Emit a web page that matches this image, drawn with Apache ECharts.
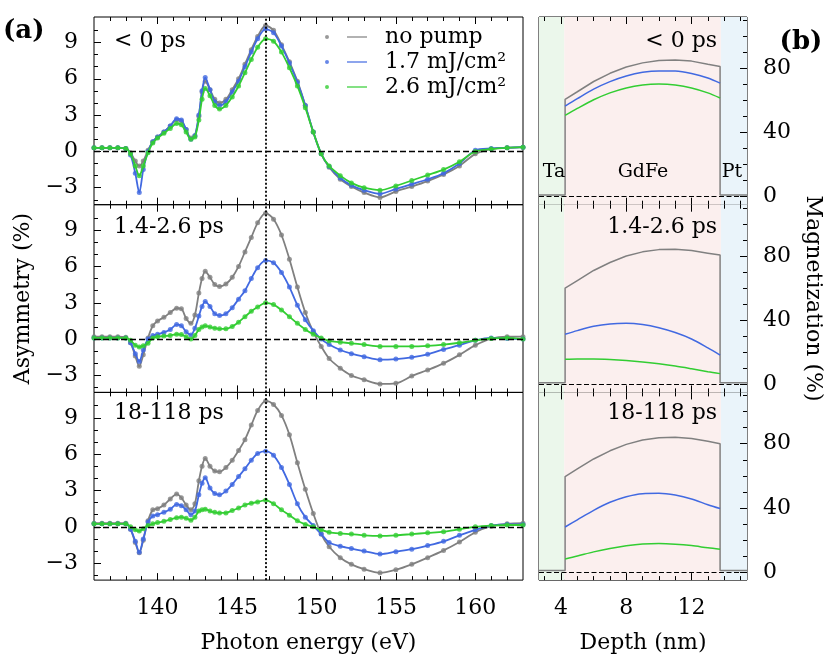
<!DOCTYPE html>
<html>
<head>
<meta charset="utf-8">
<title>Asymmetry spectra and magnetization depth profiles</title>
<script src="https://cdn.jsdelivr.net/npm/echarts@6.0.0/dist/echarts.min.js"></script>
<style>
  html, body { margin: 0; padding: 0; background: #fff; }
  #main { width: 830px; height: 659px; }
</style>
</head>
<body>
<div id="main"></div>
<script>
// photon energy (eV) of the sampled points
const energy = [136, 136.5, 137, 137.5, 138, 138.3, 138.6, 138.85, 139.1, 139.4,
  139.7, 140.0, 140.4, 140.8, 141.2, 141.5, 141.8, 142.1, 142.35, 142.6,
  142.8, 143.0, 143.3, 143.6, 143.9, 144.3, 144.7, 145.1, 145.5, 145.9,
  146.3, 146.8, 147.3, 147.8, 148.3, 148.8, 149.3, 149.8, 150.3, 150.8,
  151.5, 152.2, 153, 154, 155, 156, 157, 158, 159, 160,
  161, 162, 163]

// asymmetry (%) , delay < 0 ps
const noPumpNeg = [0.3, 0.3, 0.3, 0.3, 0.25, -0.1, -0.8, -1.2, -0.8, 0.1,
  0.8, 1.2, 1.6, 2.1, 2.6, 2.5, 1.8, 1.1, 1.3, 2.9,
  4.9, 5.8, 5.1, 4.3, 4.0, 4.3, 5.1, 6.0, 7.2, 8.4,
  9.5, 10.4, 10.0, 8.8, 7.4, 5.8, 3.8, 1.6, -0.2, -1.3,
  -2.3, -2.9, -3.4, -3.8, -3.3, -2.9, -2.45, -1.9, -1.2, -0.2,
  0.2, 0.3, 0.35]
const lowNeg = [0.3, 0.3, 0.3, 0.3, 0.25, -0.3, -1.8, -3.4, -1.5, 0.0,
  0.8, 1.2, 1.6, 2.1, 2.7, 2.6, 1.8, 1.0, 1.3, 3.0,
  5.0, 6.1, 5.1, 4.1, 3.8, 4.1, 4.9, 5.8, 7.0, 8.2,
  9.3, 10.1, 9.8, 8.7, 7.3, 5.7, 3.8, 1.6, -0.2, -1.25,
  -2.2, -2.8, -3.2, -3.5, -3.1, -2.7, -2.3, -1.8, -1.0, 0.1,
  0.25, 0.3, 0.35]
const highNeg = [0.3, 0.3, 0.3, 0.3, 0.25, -0.2, -1.2, -2.0, -1.2, -0.1,
  0.7, 1.1, 1.5, 1.9, 2.3, 2.2, 1.6, 1.0, 1.2, 2.6,
  4.3, 5.2, 4.6, 3.8, 3.5, 3.8, 4.5, 5.4, 6.5, 7.6,
  8.6, 9.3, 9.1, 8.2, 6.9, 5.4, 3.6, 1.6, -0.2, -1.2,
  -2.0, -2.6, -3.0, -3.2, -2.85, -2.4, -1.95, -1.5, -0.85, 0.0,
  0.2, 0.3, 0.35]

// asymmetry (%) , delay 1.4-2.6 ps
const noPumpEarly = [0.2, 0.2, 0.2, 0.2, 0.15, -0.3, -1.4, -2.25, -1.3, 0.1,
  1.1, 1.5, 1.8, 2.2, 2.55, 2.5, 1.7, 1.3, 2.0, 3.8,
  5.0, 5.6, 5.1, 4.5, 4.35, 4.55, 5.1, 6.0, 7.2, 8.4,
  9.6, 10.4, 9.9, 8.6, 6.6, 4.3, 2.2, 0.6, -0.6, -1.6,
  -2.4, -3.0, -3.35, -3.7, -3.65, -3.05, -2.55, -2.0, -1.3, -0.5,
  0.05, 0.2, 0.2]
const lowEarly = [0.1, 0.1, 0.1, 0.1, 0.1, -0.3, -1.2, -1.85, -0.9, 0.0,
  0.3, 0.4, 0.55, 0.8, 1.2, 1.1, 0.6, 0.35, 0.9, 1.9,
  2.7, 3.1, 2.7, 2.1, 1.95, 2.1, 2.6, 3.3, 4.0, 5.0,
  5.9, 6.5, 6.3, 5.5, 4.3, 2.8, 1.6, 0.7, 0.0, -0.45,
  -0.9, -1.2, -1.45, -1.7, -1.65, -1.5, -1.25, -0.85, -0.5, -0.1,
  0.1, 0.05, 0.0]
const highEarly = [0.1, 0.1, 0.1, 0.1, 0.1, -0.1, -0.5, -0.65, -0.55, -0.35,
  0.1, 0.2, 0.25, 0.3, 0.4, 0.38, 0.2, 0.0, 0.3, 0.8,
  1.0, 1.1, 1.0, 0.9, 0.85, 0.85, 1.05, 1.4, 1.85, 2.3,
  2.65, 3.0, 2.85, 2.4, 1.85, 1.3, 0.8, 0.4, 0.1, -0.15,
  -0.25, -0.35, -0.45, -0.6, -0.6, -0.6, -0.55, -0.45, -0.3, -0.1,
  0.05, 0.1, 0.0]

// asymmetry (%) , delay 18-118 ps
const noPumpLate = [0.3, 0.3, 0.3, 0.3, 0.3, -0.2, -1.3, -2.15, -1.1, 0.5,
  1.4, 1.5, 1.8, 2.3, 2.7, 2.4, 1.8, 1.4, 1.9, 3.8,
  5.0, 5.65, 5.0, 4.6, 4.55, 4.9, 5.5, 6.3, 7.2, 8.4,
  9.6, 10.4, 10.1, 9.2, 7.6, 5.3, 3.1, 1.1, -0.6, -1.65,
  -2.55, -3.1, -3.5, -3.8, -3.55, -3.1, -2.55, -1.95, -1.25, -0.45,
  0.05, 0.25, 0.3]
const lowLate = [0.25, 0.25, 0.25, 0.25, 0.25, -0.2, -1.2, -2.1, -1.0, 0.4,
  0.9, 1.0, 1.2, 1.45, 1.85, 1.75, 1.4, 1.0, 1.3, 2.65,
  3.6, 4.05, 3.2, 2.75, 2.65, 2.95, 3.5, 4.15, 4.8, 5.5,
  6.05, 6.25, 5.9, 4.9, 3.5, 1.9, 0.8, 0.1, -0.6, -1.3,
  -1.6, -1.8, -2.0, -2.25, -2.05, -1.85, -1.55, -1.2, -0.7, -0.25,
  0.1, 0.2, 0.2]
const highLate = [0.25, 0.25, 0.25, 0.25, 0.25, 0.0, -0.25, -0.35, -0.15, 0.1,
  0.25, 0.35, 0.45, 0.6, 0.75, 0.8, 0.7, 0.55, 0.8, 1.3,
  1.4, 1.45, 1.3, 1.2, 1.15, 1.15, 1.35, 1.55, 1.8, 1.95,
  2.05, 2.2, 1.9, 1.4, 0.95, 0.5, 0.2, 0.0, -0.25, -0.45,
  -0.55, -0.6, -0.7, -0.75, -0.7, -0.6, -0.5, -0.4, -0.2, 0.0,
  0.1, 0.15, 0.15]

// depth (nm) inside the GdFe film and magnetization (%)
const depth = [4.25, 5, 6, 7, 8, 9, 10, 11, 12, 13, 13.75]
const magNoPumpNeg = [60.7, 65.4, 71.8, 76.9, 80.8, 83.4, 84.9, 85.2, 84.5, 82.6, 81.2]
const magLowNeg = [56.5, 61.1, 67.0, 71.7, 75.2, 77.5, 78.4, 78.3, 76.8, 74.0, 70.8]
const magHighNeg = [50.7, 55.0, 60.4, 64.7, 67.8, 69.6, 70.2, 69.6, 67.8, 64.7, 61.5]
const magNoPumpEarly = [60.0, 64.7, 71.0, 76.0, 80.0, 82.6, 84.0, 84.2, 83.4, 81.8, 80.6]
const magLowEarly = [31.2, 33.5, 36.2, 37.7, 38.1, 37.3, 35.3, 32.3, 28.3, 22.8, 18.3]
const magHighEarly = [15.6, 15.8, 15.8, 15.5, 14.9, 14.0, 12.8, 11.4, 9.7, 7.9, 6.7]
const magNoPumpLate = [59.5, 64.3, 70.5, 75.6, 79.6, 82.3, 83.8, 84.1, 83.3, 81.5, 80.0]
const magLowLate = [28.1, 32.6, 38.5, 43.5, 47.0, 48.9, 49.1, 48.0, 45.6, 42.0, 39.6]
const magHighLate = [8.2, 10.0, 12.6, 14.7, 16.4, 17.5, 17.8, 17.4, 16.5, 15.1, 14.2]
const outsideLevel = 1

const traceNames = ['no pump', '1.7 mJ/cm²', '2.6 mJ/cm²']
const delayLabels = ['< 0 ps', '1.4-2.6 ps', '18-118 ps']
const layerNames = ['Ta', 'GdFe', 'Pt']
const layerBounds = [2.65, 4.2, 13.8, 15.4]
const edgeEnergy = 146.8

const energyRange = [136, 163]
const asymRange = [-4.4, 11.1]
const depthRange = [2.65, 15.4]
const magRange = [-5, 112]
const energyTicks = [140, 145, 150, 155, 160]
const energyMinor = [137, 138, 139, 141, 142, 143, 144, 146, 147, 148, 149, 151, 152, 153, 154, 156, 157, 158, 159, 161, 162]
const asymTicks = [-3, 0, 3, 6, 9]
const asymMinor = [-4, -2, -1, 1, 2, 4, 5, 7, 8, 10]
const depthTicks = [4, 8, 12]
const depthMinor = [3, 5, 6, 7, 9, 10, 11, 13, 14, 15]
const magTicks = [0, 40, 80]
const magMinor = [10, 20, 30, 50, 60, 70, 90, 100, 110]

const asymData = [[noPumpNeg, lowNeg, highNeg], [noPumpEarly, lowEarly, highEarly], [noPumpLate, lowLate, highLate]]
const magData = [[magNoPumpNeg, magLowNeg, magHighNeg], [magNoPumpEarly, magLowEarly, magHighEarly], [magNoPumpLate, magLowLate, magHighLate]]

const chart = echarts.init(document.getElementById('main'))
const FONT = 'DejaVu Serif'
const BLACK = '#000'
const traceColors = ['#808080', '#4169e1', '#32cd32']
const layerColors = ['#ebf7eb', '#fbefee', '#eaf4fa']

const panelTop = [17, 204.7, 392.4]
const panelHeight = 187.7
const leftBox = { left: 94, width: 429 }
const rightBox = { left: 539, width: 208 }

const grid = [], xAxis = [], yAxis = [], series = []
const labelFont = { fontFamily: FONT, fontSize: 22, color: BLACK }
const minus = v => String(v).replace('-', '\u2212')
const pairs = (xs, ys) => ys.map((y, i) => [xs[i], y])

// tick-only axis (no series on it); hidden labels keep the same custom values as the ticks
const tickAxis = (g, pos, range, values, len) => ({
    type: 'value', gridIndex: g, position: pos, min: range[0], max: range[1], z: 10,
    splitLine: { show: false }, axisLine: { show: false, onZero: false },
    axisLabel: { show: false, customValues: values },
    axisTick: { show: true, inside: true, length: len, customValues: values, lineStyle: { color: BLACK, width: 1 } }
})

const addPanel = (box, top, o) => {
    const g = grid.length
    grid.push({
        left: box.left, width: box.width, top: top, height: panelHeight,
        show: true, backgroundColor: 'transparent', borderColor: BLACK, borderWidth: 1
    })
    const base = { type: 'value', gridIndex: g, z: 10, splitLine: { show: false }, axisLine: { show: false, onZero: false }, axisTick: { show: false } }
    const xi = xAxis.length
    xAxis.push({
        ...base, position: 'bottom', min: o.xRange[0], max: o.xRange[1],
        axisLabel: { show: !!o.xName, customValues: o.xMajor, margin: 17, ...labelFont },
        name: o.xName || '', nameLocation: 'middle', nameGap: 52, nameTextStyle: labelFont
    })
    ;['bottom', 'top'].forEach(pos => {
        xAxis.push(tickAxis(g, pos, o.xRange, o.xMajor, 7))
        xAxis.push(tickAxis(g, pos, o.xRange, o.xMinor, 4))
    })
    const yi = yAxis.length
    yAxis.push({
        ...base, position: o.ySide, min: o.yRange[0], max: o.yRange[1],
        axisLabel: { customValues: o.yMajor, margin: 16, formatter: minus, ...labelFont },
        name: o.yName || '', nameLocation: 'middle', nameGap: o.yNameGap || 0,
        nameRotate: o.ySide === 'left' ? 90 : -90, nameTextStyle: labelFont
    })
    yAxis.push(tickAxis(g, o.ySide, o.yRange, o.yMajor, 7))
    yAxis.push(tickAxis(g, o.ySide, o.yRange, o.yMinor, 4))
    return { xi, yi }
}

const dashedZero = (dash, width) => ({ yAxis: 0, lineStyle: { type: dash, width: width, color: BLACK } })

delayLabels.forEach((label, p) => {
    const last = p === delayLabels.length - 1
    const a = addPanel(leftBox, panelTop[p], {
        xRange: energyRange, xMajor: energyTicks, xMinor: energyMinor, xName: last ? 'Photon energy (eV)' : '',
        yRange: asymRange, yMajor: asymTicks, yMinor: asymMinor, ySide: 'left',
        yName: p === 1 ? 'Asymmetry (%)' : '', yNameGap: 58
    })
    asymData[p].forEach((vals, k) => {
        const pts = pairs(energy, vals)
        series.push({
            name: traceNames[k], type: 'scatter', xAxisIndex: a.xi, yAxisIndex: a.yi, data: pts,
            symbolSize: 5, itemStyle: { color: traceColors[k] }, z: 2 + k
        })
        series.push({
            name: traceNames[k], type: 'line', xAxisIndex: a.xi, yAxisIndex: a.yi, data: pts,
            showSymbol: false, smooth: 0.3, itemStyle: { color: traceColors[k] },
            lineStyle: { color: traceColors[k], width: 1.8 }, z: 2 + k,
            markLine: k === 2 ? {
                silent: true, symbol: ['none', 'none'], label: { show: false }, animation: false,
                data: [dashedZero([6, 3], 1.3), { xAxis: edgeEnergy, lineStyle: { type: [2, 2], width: 1.8, color: BLACK } }]
            } : undefined
        })
    })

    const r = addPanel(rightBox, panelTop[p], {
        xRange: depthRange, xMajor: depthTicks, xMinor: depthMinor, xName: last ? 'Depth (nm)' : '',
        yRange: magRange, yMajor: magTicks, yMinor: magMinor, ySide: 'right',
        yName: p === 1 ? 'Magnetization (%)' : '', yNameGap: 55
    })
    magData[p].forEach((vals, k) => {
        let pts = pairs(depth, vals)
        if (k === 0) {
            pts = [[depthRange[0], outsideLevel], [depth[0], outsideLevel]].concat(pts,
                [[depth[depth.length - 1], outsideLevel], [depthRange[1], outsideLevel]])
        }
        series.push({
            type: 'line', xAxisIndex: r.xi, yAxisIndex: r.yi, data: pts,
            showSymbol: false, smooth: k === 0 ? false : 0.3,
            itemStyle: { color: traceColors[k] }, lineStyle: { color: traceColors[k], width: 1.5 }, z: 2 + k,
            markArea: k === 0 ? {
                silent: true, animation: false,
                data: layerNames.map((n, i) => [
                    { xAxis: layerBounds[i], itemStyle: { color: layerColors[i] } },
                    { xAxis: layerBounds[i + 1] }
                ])
            } : undefined,
            markLine: k === 0 ? {
                silent: true, symbol: ['none', 'none'], label: { show: false }, animation: false,
                data: [dashedZero([5, 2.5], 1.2)]
            } : undefined
        })
    })
})

const txt = (text, x, y, align, extra) => ({
    type: 'text', x: x, y: y, z: 100, silent: true,
    style: Object.assign({ text: text, fill: BLACK, fontFamily: FONT, fontSize: 22, align: align, verticalAlign: 'middle' }, extra || {})
})

const graphic = [
    txt('(a)', 3, 31, 'left', { fontWeight: 'bold', fontSize: 26 }),
    txt('(b)', 801, 42, 'center', { fontWeight: 'bold', fontSize: 26 })
]
const labelY = [41, 227, 413]
delayLabels.forEach((label, p) => {
    graphic.push(txt(label, 114, labelY[p], 'left'))
    graphic.push(txt(label, 717, labelY[p], 'right'))
})
const layerLabelX = [554, 643, 732]
layerNames.forEach((n, i) => graphic.push(txt(n, layerLabelX[i], 172, 'center', { fontSize: 19 })))

const option = {
    animation: false,
    grid: grid,
    xAxis: xAxis,
    yAxis: yAxis,
    legend: {
        data: traceNames, orient: 'vertical', left: 325, top: 26, padding: 0, itemGap: 3,
        itemWidth: 42, itemHeight: 4, selectedMode: false,
        icon: 'path://M0,2a2,2 0 1,0 4,0a2,2 0 1,0 -4,0Z M22,1.25h20v1.5h-20Z',
        itemStyle: { borderWidth: 0 },
        textStyle: { fontFamily: FONT, fontSize: 22, color: BLACK, padding: [0, 0, 0, 13] }
    },
    graphic: graphic,
    series: series
}
chart.setOption(option)
</script>
</body>
</html>
